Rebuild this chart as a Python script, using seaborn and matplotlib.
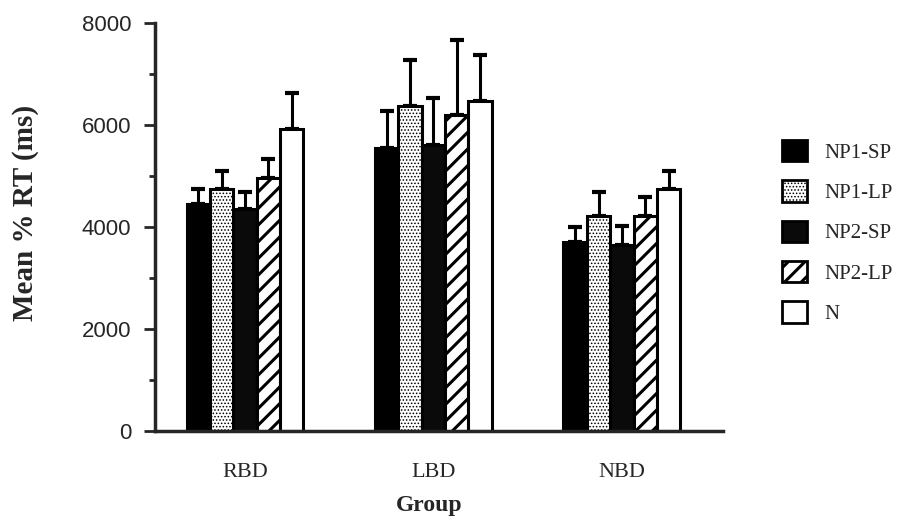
import pandas as pd
import matplotlib.pyplot as plt
import seaborn as sns
from matplotlib.patches import Patch
from matplotlib.ticker import MultipleLocator

grupos = ['RBD', 'LBD', 'NBD']
condicoes = ['NP1-SP', 'NP1-LP', 'NP2-SP', 'NP2-LP', 'N']

# médias por condição, na ordem RBD, LBD, NBD
np1_sp = [4460, 5550, 3700]
np1_lp = [4740, 6370, 4210]
np2_sp = [4350, 5600, 3650]
np2_lp = [4960, 6200, 4210]
n_cond = [5920, 6470, 4750]

# barras de erro (só para cima)
np1_sp_err = [290, 720, 300]
np1_lp_err = [350, 900, 470]
np2_sp_err = [330, 930, 360]
np2_lp_err = [380, 1470, 370]
n_cond_err = [700, 910, 340]

medias = [np1_sp, np1_lp, np2_sp, np2_lp, n_cond]
erros = [np1_sp_err, np1_lp_err, np2_sp_err, np2_lp_err, n_cond_err]

df = pd.DataFrame({
    'grupo': grupos * len(condicoes),
    'condicao': [c for c in condicoes for _ in grupos],
    'rt': [v for serie in medias for v in serie],
})

cores = {'NP1-SP': 'black', 'NP1-LP': 'white', 'NP2-SP': '#0a0a0a', 'NP2-LP': 'white', 'N': 'white'}
hachuras = [None, '.....', None, '//', None]
espessura_hachura = [1, 0.7, 1, 2.2, 1]

sns.set_style('ticks')
plt.rcParams['font.family'] = ['Liberation Serif', 'DejaVu Serif']
plt.rcParams['hatch.linewidth'] = 2.0
plt.rcParams['hatch.color'] = 'black'


def aplica_hachura(barra, hachura, lw):
    if hachura:
        barra.set_hatch(hachura)
        if hasattr(barra, 'set_hatch_linewidth'):
            barra.set_hatch_linewidth(lw)


fig, ax = plt.subplots(figsize=(9.07, 5.19), dpi=100)
fig.subplots_adjust(left=0.171, right=0.797, bottom=0.1696, top=0.9557)

sns.barplot(
    data=df, x='grupo', y='rt', hue='condicao',
    order=grupos, hue_order=condicoes, palette=cores, saturation=1,
    width=0.62, gap=0, edgecolor='black', linewidth=2.2,
    errorbar=None, legend=False, ax=ax,
)

for container, hachura, lw, serie, erro in zip(ax.containers, hachuras, espessura_hachura, medias, erros):
    xs = []
    for barra in container:
        aplica_hachura(barra, hachura, lw)
        xs.append(barra.get_x() + barra.get_width() / 2)
    ax.errorbar(xs, serie, yerr=[[0] * len(erro), erro], fmt='none',
                ecolor='black', elinewidth=2.2, capsize=5, capthick=3, zorder=0.5)

ax.set_ylim(0, 8000)
ax.set_xlim(-0.477, 2.536)
ax.yaxis.set_major_locator(MultipleLocator(2000))
ax.yaxis.set_minor_locator(MultipleLocator(1000))
ax.tick_params(axis='y', which='major', length=8, width=2, pad=9, labelsize=16)
ax.tick_params(axis='y', which='minor', length=4, width=2)
ax.tick_params(axis='x', length=0, pad=23, labelsize=16)
for rotulo in ax.get_yticklabels():
    rotulo.set_fontfamily('Liberation Sans')

sns.despine(ax=ax)
for lado in ('left', 'bottom'):
    ax.spines[lado].set_linewidth(2.5)

ax.set_ylabel('Mean % RT (ms)', fontsize=21, fontweight='bold')
ax.set_xlabel('Group', fontsize=17, fontweight='bold')
ax.yaxis.set_label_coords(-0.205, 0.534)
ax.xaxis.set_label_coords(0.482, -0.157)

alcas = [Patch(facecolor=cores[c], edgecolor='black', linewidth=2, hatch=h)
         for c, h in zip(condicoes, hachuras)]
legenda = fig.legend(alcas, condicoes, loc='center left', bbox_to_anchor=(0.842, 0.553),
                     frameon=False, fontsize=15, handlelength=1.2, handleheight=1.2,
                     labelspacing=0.85, handletextpad=0.8)
for alca, h, lw in zip(legenda.get_patches(), hachuras, espessura_hachura):
    aplica_hachura(alca, h, lw)

fig.savefig('out.png', dpi=100)
